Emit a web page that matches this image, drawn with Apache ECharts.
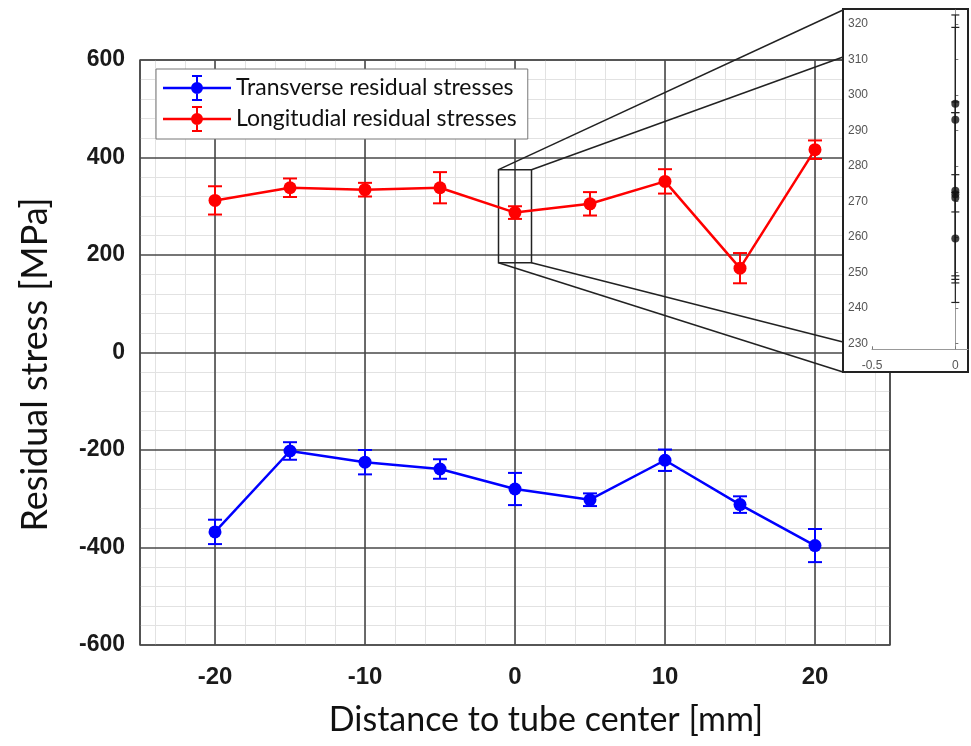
<!DOCTYPE html>
<html>
<head>
<meta charset="utf-8">
<script src="https://cdn.jsdelivr.net/npm/echarts@6/dist/echarts.min.js"></script>
<style>
  html, body { margin: 0; padding: 0; background: #fff; }
  #chart { width: 971px; height: 746px; }
</style>
</head>
<body>
<div id="chart"></div>
<script>
// distance to tube center (mm)
const positions = [-20, -15, -10, -5, 0, 5, 10, 15, 20];
// transverse residual stresses (MPa) and error
const transverse = [-368, -202, -225, -239, -280, -302, -221, -312, -396];
const transverseErr = [25, 18, 25, 20, 33, 13, 22, 17, 34];
// longitudinal residual stresses (MPa) and error
const longitudinal = [312, 338, 334, 338, 287, 305, 351, 173, 416];
const longitudinalErr = [29, 19, 14, 32, 13, 24, 25, 31, 19];
// zoomed view of the measurements at the center
const insetX = [0, 0, 0, 0, 0, 0];
const insetValues = [297.5, 293, 273, 272, 271, 259.5];
const insetErr = [25, 26, 25, 23, 24, 18];
// region of the main plot shown in the zoom
const zoomX = [-1.1, 1.1];
const zoomY = [184, 375];

const names = ['Transverse residual stresses', 'Longitudial residual stresses'];

// legend icon: line + marker + error bar
const legendIcon = 'path://M0,11.75H68V14.25H0Z M33,1H35V25H33Z M29,0H39V2H29Z M29,24H39V26H29Z ' +
  'M34,7A6,6 0 1,1 34,19A6,6 0 1,1 34,7Z';

function errorBars(color, capHalf, lw) {
  return function (params, api) {
    const x = api.value(0);
    const top = api.coord([x, api.value(2)]);
    const bot = api.coord([x, api.value(1)]);
    const st = { stroke: color, lineWidth: lw };
    return {
      type: 'group',
      children: [
        { type: 'line', shape: { x1: top[0], y1: top[1], x2: bot[0], y2: bot[1] }, style: st },
        { type: 'line', shape: { x1: top[0] - capHalf, y1: top[1], x2: top[0] + capHalf, y2: top[1] }, style: st },
        { type: 'line', shape: { x1: bot[0] - capHalf, y1: bot[1], x2: bot[0] + capHalf, y2: bot[1] }, style: st }
      ]
    };
  };
}

const pairs = (xs, ys) => xs.map((x, i) => [x, ys[i]]);
const ranges = (xs, ys, es) => xs.map((x, i) => [x, ys[i] - es[i], ys[i] + es[i]]);

const chart = echarts.init(document.getElementById('chart'));

chart.setOption({
  animation: false,
  grid: [
    { left: 140, right: 81, top: 60, bottom: 101, show: true, borderColor: '#555', borderWidth: 1.5, outerBoundsMode: 'none' },
    { left: 872, top: 10, width: 96, bottom: 396.7, outerBoundsMode: 'none' },
    // 1 mm wider on each side, only used for the 2 mm minor grid
    { left: 125, right: 66, top: 60, bottom: 101, outerBoundsMode: 'none' }
  ],
  legend: {
    orient: 'vertical',
    left: 156, top: 69,
    padding: [6, 11, 7, 7],
    itemGap: 5,
    itemWidth: 68, itemHeight: 26,
    icon: legendIcon,
    backgroundColor: '#fff',
    borderColor: '#777', borderWidth: 1,
    textStyle: { fontFamily: 'Lato', fontSize: 23, color: '#111' },
    data: names
  },
  xAxis: [
    {
      type: 'value', gridIndex: 0, position: 'bottom', min: -25, max: 25, splitNumber: 5, z: 1,
      name: 'Distance to tube center [mm]', nameLocation: 'middle', nameGap: 58,
      nameTextStyle: { fontFamily: 'Lato', fontSize: 34, color: '#111', padding: [0, 0, 0, 62] },
      axisLine: { show: false }, axisTick: { show: false },
      axisLabel: {
        showMinLabel: false, showMaxLabel: false, margin: 20,
        fontFamily: 'Liberation Sans Narrow, Liberation Sans', fontWeight: 'bold', fontSize: 24, color: '#1a1a1a'
      },
      splitLine: { lineStyle: { color: '#484848', width: 1.6 } }
    },
    {
      type: 'value', gridIndex: 1, position: 'bottom', min: -0.5, max: 0.076, interval: 0.5, z: 4,
      axisLine: { lineStyle: { color: '#999', width: 1 } },
      axisTick: { inside: true, length: 3, lineStyle: { color: '#777' } },
      axisLabel: { showMaxLabel: false, margin: 10, fontFamily: 'Liberation Sans', fontSize: 12, color: '#555' },
      splitLine: { show: false }
    },
    { // minor grid, every 2 mm
      type: 'value', gridIndex: 2, position: 'bottom', min: -26, max: 26, interval: 2, z: 0,
      axisLine: { show: false }, axisTick: { show: false }, axisLabel: { show: false },
      splitLine: { showMinLine: false, showMaxLine: false, lineStyle: { color: '#e2e2e2', width: 1 } }
    }
  ],
  yAxis: [
    {
      type: 'value', gridIndex: 0, min: -600, max: 600, interval: 200, z: 1,
      name: 'Residual stress [MPa]', nameLocation: 'middle', nameGap: 87,
      nameTextStyle: { fontFamily: 'Lato', fontSize: 36, color: '#111', padding: [0, 24, 0, 0] },
      axisLine: { show: false }, axisTick: { show: false },
      axisLabel: { margin: 15, fontFamily: 'Liberation Sans', fontWeight: 'bold', fontSize: 23, color: '#1a1a1a' },
      splitLine: { lineStyle: { color: '#484848', width: 1.6 } },
      minorTick: { show: false, splitNumber: 5 },
      minorSplitLine: { show: true, lineStyle: { color: '#e2e2e2', width: 1 } }
    },
    {
      type: 'value', gridIndex: 1, min: 228.3, max: 323.9, splitNumber: 10, z: 4,
      axisLine: { show: true, lineStyle: { color: '#999', width: 1 } },
      axisTick: { inside: true, length: 3, lineStyle: { color: '#777' } },
      axisLabel: { showMinLabel: false, showMaxLabel: false, margin: 4, fontFamily: 'Liberation Sans', fontSize: 12, color: '#555' },
      splitLine: { show: false }
    },
    {
      type: 'value', gridIndex: 2, min: -600, max: 600, show: false,
      splitLine: { show: false }
    }
  ],
  series: [
    {
      name: names[0], type: 'line', xAxisIndex: 0, yAxisIndex: 0, z: 3,
      data: pairs(positions, transverse),
      color: '#0000ff', symbol: 'circle', symbolSize: 13,
      lineStyle: { width: 2.5 }
    },
    {
      name: 'Transverse error', type: 'custom', xAxisIndex: 0, yAxisIndex: 0, z: 3,
      data: ranges(positions, transverse, transverseErr),
      encode: { x: 0, y: [1, 2] },
      renderItem: errorBars('#0000ff', 7, 2)
    },
    {
      name: names[1], type: 'line', xAxisIndex: 0, yAxisIndex: 0, z: 3,
      data: pairs(positions, longitudinal),
      color: '#ff0000', symbol: 'circle', symbolSize: 13,
      lineStyle: { width: 2.5 }
    },
    {
      name: 'Longitudinal error', type: 'custom', xAxisIndex: 0, yAxisIndex: 0, z: 3,
      data: ranges(positions, longitudinal, longitudinalErr),
      encode: { x: 0, y: [1, 2] },
      renderItem: errorBars('#ff0000', 7, 2)
    },
    {
      name: 'Center points', type: 'scatter', xAxisIndex: 1, yAxisIndex: 1, z: 6,
      data: pairs(insetX, insetValues),
      symbol: 'circle', symbolSize: 8, itemStyle: { color: '#111' }
    },
    {
      name: 'Center error', type: 'custom', xAxisIndex: 1, yAxisIndex: 1, z: 5,
      data: ranges(insetX, insetValues, insetErr),
      encode: { x: 0, y: [1, 2] },
      renderItem: errorBars('#222', 4, 1.2)
    }
  ]
});

// zoom box on the main plot and the connectors to the inset
const tl = chart.convertToPixel({ gridIndex: 0 }, [zoomX[0], zoomY[1]]);
const br = chart.convertToPixel({ gridIndex: 0 }, [zoomX[1], zoomY[0]]);
const inset = { x: 843, y: 9, w: 125, h: 363 };
const edge = { style: { stroke: '#222', lineWidth: 1.5, fill: null }, z: 1 };

chart.setOption({
  graphic: [
    Object.assign({ type: 'rect', shape: { x: tl[0], y: tl[1], width: br[0] - tl[0], height: br[1] - tl[1] } }, edge),
    Object.assign({ type: 'line', shape: { x1: tl[0], y1: tl[1], x2: inset.x, y2: inset.y + 1 } }, edge),
    Object.assign({ type: 'line', shape: { x1: br[0], y1: tl[1], x2: inset.x, y2: 57 } }, edge),
    Object.assign({ type: 'line', shape: { x1: tl[0], y1: br[1], x2: inset.x, y2: inset.y + inset.h } }, edge),
    Object.assign({ type: 'line', shape: { x1: br[0], y1: br[1], x2: inset.x, y2: 342 } }, edge),
    {
      type: 'rect', z: 3,
      shape: { x: inset.x, y: inset.y, width: inset.w, height: inset.h },
      style: { fill: '#fff', stroke: '#222', lineWidth: 2 }
    }
  ]
});

window.addEventListener('resize', () => chart.resize());
</script>
</body>
</html>
